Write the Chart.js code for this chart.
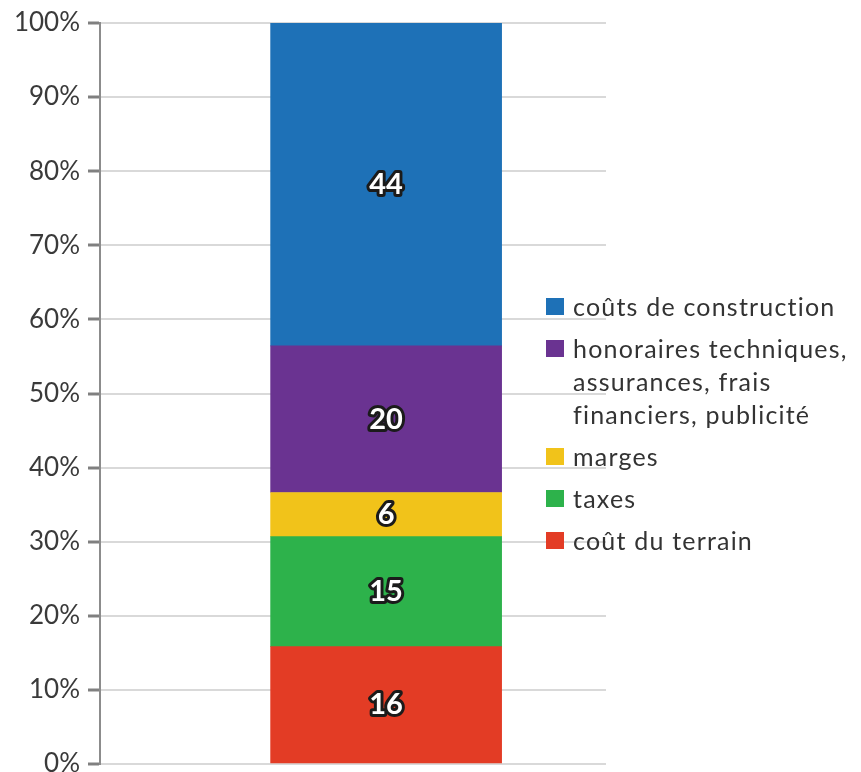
<!DOCTYPE html>
<html>
<head>
<meta charset="utf-8">
<script src="https://cdn.jsdelivr.net/npm/chart.js@4"></script>
<style>
  body { margin: 0; background: #fff; }
  #wrap { position: relative; width: 861px; height: 772px; }
  #legend { position: absolute; left: 546px; top: 290px; font-family: Lato, sans-serif; font-size: 25px; letter-spacing: 1.2px; color: #333; }
  .item { display: flex; align-items: flex-start; margin-bottom: 9px; line-height: 33px; white-space: nowrap; }
  .box { width: 18px; height: 17px; margin-top: 8px; margin-right: 9px; flex: none; }
</style>
</head>
<body>
<div id="wrap">
  <canvas id="myChart" width="861" height="772"></canvas>
  <div id="legend"></div>
</div>
<script>
// bottom to top
const categories = [
    ['coût du terrain'],
    ['taxes'],
    ['marges'],
    ['honoraires techniques,', 'assurances, frais', 'financiers, publicité'],
    ['coûts de construction'],
];
const values = [16, 15, 6, 20, 44];
const colors = ['#e33c25', '#2db24b', '#f1c31a', '#6a3391', '#1e71b7'];
const tickValues = [0, 10, 20, 30, 40, 50, 60, 70, 80, 90, 100];

const barPos = 0.572;
const total = values.reduce((a, b) => a + b, 0);

const datasets = values.map((v, i) => ({
    label: categories[i].join(' '),
    data: [{ x: barPos, y: v / total * 100 }],
    backgroundColor: colors[i],
    barThickness: 231,
}));

const valueLabels = {
    id: 'valueLabels',
    afterDatasetsDraw(chart) {
        const ctx = chart.ctx;
        ctx.save();
        ctx.font = 'bold 29px Lato, sans-serif';
        ctx.textAlign = 'center';
        ctx.textBaseline = 'middle';
        ctx.lineJoin = 'round';
        chart.data.datasets.forEach((ds, i) => {
            chart.getDatasetMeta(i).data.forEach(bar => {
                const p = bar.getCenterPoint();
                ctx.lineWidth = 6;
                ctx.strokeStyle = '#1b1b1b';
                ctx.strokeText(values[i], p.x, p.y);
                ctx.fillStyle = '#fff';
                ctx.fillText(values[i], p.x, p.y);
            });
        });
        ctx.restore();
    }
};

const config = {
    type: 'bar',
    data: { datasets: datasets },
    options: {
        responsive: false,
        animation: false,
        layout: { padding: { top: 23, bottom: 8, right: 255, left: 0 } },
        plugins: { legend: { display: false }, tooltip: { enabled: false } },
        scales: {
            x: { type: 'linear', min: 0, max: 1, stacked: true, display: false },
            y: {
                stacked: true,
                min: 0,
                max: 100,
                afterBuildTicks: scale => { scale.ticks = tickValues.map(v => ({ value: v })); },
                ticks: {
                    callback: v => v + '%',
                    color: '#3a3a3a',
                    font: { family: 'Lato', size: 26 },
                    padding: 8,
                },
                grid: { color: '#d9d9d9', lineWidth: 2, tickLength: 12, tickColor: '#808080', tickWidth: 3 },
                border: { color: '#8c8c8c', width: 2 },
                afterFit: scale => {
                    scale.width = 100;
                    scale.paddingTop = 0;
                    scale.paddingBottom = 0;
                },
            },
        },
    },
    plugins: [valueLabels],
};

new Chart(document.getElementById('myChart'), config);

const legend = document.getElementById('legend');
for (let i = categories.length - 1; i >= 0; i--) {
    const item = document.createElement('div');
    item.className = 'item';
    const box = document.createElement('span');
    box.className = 'box';
    box.style.background = colors[i];
    const text = document.createElement('span');
    text.innerHTML = categories[i].join('<br>');
    item.appendChild(box);
    item.appendChild(text);
    legend.appendChild(item);
}
</script>
</body>
</html>
